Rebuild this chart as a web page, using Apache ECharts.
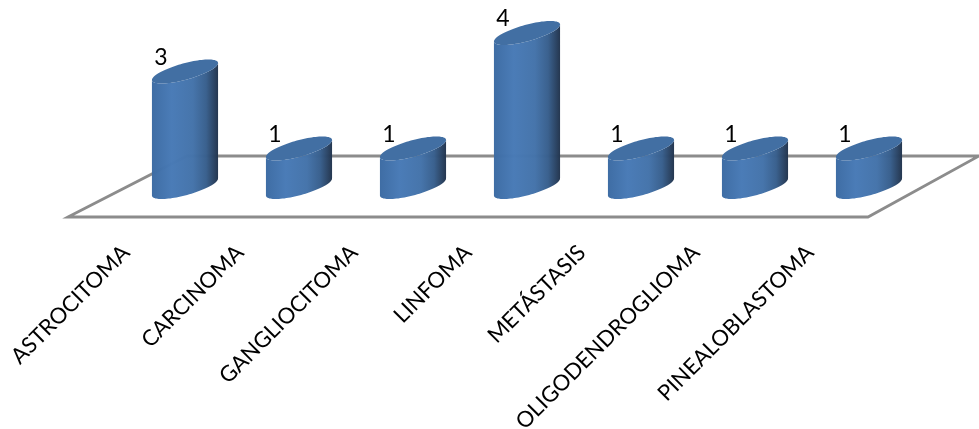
<!DOCTYPE html>
<html>
<head>
<meta charset="utf-8">
<title>Tumores</title>
<script src="https://cdn.jsdelivr.net/npm/echarts@6/dist/echarts.min.js"></script>
<style>html,body{margin:0;padding:0;background:#fff}#chart{width:979px;height:429px}</style>
</head>
<body>
<div id="chart"></div>
<script>
const categories = ['ASTROCITOMA','CARCINOMA','GANGLIOCITOMA','LINFOMA','METÁSTASIS','OLIGODENDROGLIOMA','PINEALOBLASTOMA'];
const counts = [3, 1, 1, 4, 1, 1, 1];

// Front edge of the floor sits on the category axis; the floor recedes by (depthX, depthY).
const plot = { left: 69, width: 798, floorY: 217, unit: 38.5, maxValue: 4 };
const depthX = 119, depthY = 61;
const standX = 59, standY = 30;

const chart = echarts.init(document.getElementById('chart'), null, { renderer: 'canvas' });

// Point on a sheared ellipse: the cylinder's round caps seen from above and tilted.
function capPoint(cx, cy, a, t) {
  const shear = 8.5, minor = 8.5;
  return [cx + a * Math.cos(t), cy - shear * Math.cos(t) + minor * Math.sin(t)];
}

function renderCylinder(params, api) {
  const base = api.coord([api.value(0), 0]);
  const top = api.coord([api.value(0), api.value(1)]);
  const a = api.size([1, 0])[0] * 0.29;
  // Bars stand halfway back on the floor.
  const cx = base[0] + standX;
  const yBase = base[1] - standY;
  const yTop = top[1] - standY;

  const n = 48;
  const body = [];
  const cap = [];
  for (let i = 0; i <= n; i++) body.push(capPoint(cx, yBase, a, Math.PI * (1 - i / n)));
  for (let i = 0; i <= n; i++) body.push(capPoint(cx, yTop, a, Math.PI * (i / n)));
  for (let i = 0; i < 2 * n; i++) cap.push(capPoint(cx, yTop, a, Math.PI * (i / n)));

  return {
    type: 'group',
    children: [
      {
        type: 'polygon',
        shape: { points: body },
        style: {
          opacity: 0.985,
          fill: {
            type: 'linear', x: 0, y: 0, x2: 1, y2: 0,
            colorStops: [
              { offset: 0, color: '#3c6ba3' },
              { offset: 0.3, color: '#487ab6' },
              { offset: 0.62, color: '#4473aa' },
              { offset: 0.82, color: '#385f8d' },
              { offset: 1, color: '#22344d' }
            ]
          }
        }
      },
      { type: 'polygon', shape: { points: cap }, style: { fill: '#426fa3' } },
      {
        type: 'text',
        style: {
          text: String(api.value(1)),
          x: cx - 24, y: yTop - 14,
          align: 'center', verticalAlign: 'middle',
          font: '23px Lato, sans-serif',
          fill: '#000'
        }
      }
    ]
  };
}

const fl = plot.left - 1, fr = plot.left + plot.width + 1, fy = plot.floorY;

chart.setOption({
  animation: false,
  backgroundColor: '#fff',
  grid: {
    left: plot.left,
    width: plot.width,
    top: plot.floorY - plot.unit * plot.maxValue,
    height: plot.unit * plot.maxValue,
    outerBoundsMode: 'none'
  },
  xAxis: {
    type: 'category',
    data: categories,
    axisLine: { show: false },
    axisTick: { show: false },
    axisLabel: {
      rotate: 45,
      interval: 0,
      margin: 32,
      color: '#000',
      fontSize: 22,
      fontFamily: 'Lato, sans-serif'
    }
  },
  yAxis: { type: 'value', min: 0, max: plot.maxValue, show: false },
  graphic: [{
    type: 'polygon',
    z: 0,
    shape: { points: [[fl, fy], [fl + depthX, fy - depthY], [979, fy - depthY], [fr, fy]] },
    style: { fill: '#fff', stroke: '#8c8c8c', lineWidth: 2.8 }
  }],
  series: [{
    type: 'custom',
    z: 5,
    renderItem: renderCylinder,
    encode: { x: 0, y: 1 },
    data: counts.map((v, i) => [i, v])
  }]
});
</script>
</body>
</html>
